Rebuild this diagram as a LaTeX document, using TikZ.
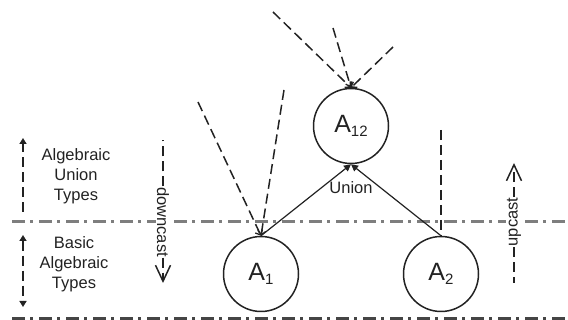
\documentclass[tikz,border=0pt]{standalone}
\usepackage{fontspec}
\setmainfont{Liberation Sans}
\usetikzlibrary{arrows.meta}

\definecolor{ink}{HTML}{222222}
\definecolor{rulegray}{HTML}{7E7E7E}
\definecolor{basegray}{HTML}{454545}

% type name with a lowered subscript
\newcommand{\typename}[2]{{\fontsize{25}{25}\selectfont #1\raisebox{-3.5pt}{\fontsize{15}{15}\selectfont #2}}}

\begin{document}
\begin{tikzpicture}[x=1pt,y=-1pt,
  every node/.style={text=ink},
  typecircle/.style={circle, draw=ink, line width=1.5pt, minimum size=75pt, inner sep=0pt},
  sidetext/.style={font=\fontsize{16.5}{20}\selectfont, align=center, inner sep=0pt},
  casttext/.style={font=\fontsize{16.5}{20}\selectfont, fill=white, inner sep=0.5pt},
  layerline/.style={draw=rulegray, line width=3pt, dash pattern=on 13pt off 5pt on 3pt off 6pt},
  baseline/.style={draw=basegray, line width=3pt, dash pattern=on 13pt off 5pt on 3pt off 6pt},
  dashln/.style={draw=ink, line width=1.5pt, dash pattern=on 10pt off 5pt},
  openhead/.style={-{Straight Barb[length=4pt,width=8pt,line width=1.3pt]}},
  casthead/.style={-{Straight Barb[length=16pt,width=15pt,line width=1.5pt]}},
  sidehead/.style={-{Triangle[length=6pt,width=7pt]}},
  unionarrow/.style={draw=ink, line width=1.2pt, -{Triangle[length=7pt,width=7pt]}}
]
\useasboundingbox (0,0) rectangle (568,320);

% layer separators
\draw[layerline] (12,222) -- (568,222);
\draw[baseline] (12,319) -- (568,319);

% type nodes
\node[typecircle] (A12) at (351,126) {\typename{A}{12}};
\node[typecircle] (A1) at (261,274) {\typename{A}{1}};
\node[typecircle] (A2) at (441,274) {\typename{A}{2}};

% union edges
\draw[unionarrow] (A1.north) -- (A12.south);
\draw[unionarrow] (A2.north) -- (A12.south);
\node[font=\fontsize{16.5}{20}\selectfont, anchor=base, inner sep=0pt] (unionlbl) at (351,194) {Union};

% incoming dashed references
\coordinate (t1) at (273,12);
\coordinate (t2) at (333,28);
\coordinate (t3) at (393,47);
\draw[dashln, openhead] (t1) -- (A12.north);
\draw[dashln, openhead] (t2) -- (A12.north);
\draw[dashln, openhead] (t3) -- (A12.north);

\coordinate (s1) at (198,102);
\coordinate (s2) at (284,90);
\draw[dashln, openhead] (s1) -- (A1.north);
\draw[dashln, openhead] (s2) -- (A1.north);

\coordinate (r1) at (441,130);
\draw[dashln] (r1) -- (A2.north);

% layer labels
\node[sidetext] (uniontypes) at (76,176) {Algebraic\\Union\\Types};
\node[sidetext] (basictypes) at (74,264) {Basic\\Algebraic\\Types};

\coordinate (ua) at (23,212);
\coordinate (ub) at (23,138);
\draw[dashln, sidehead] (ua) -- (ub);
\coordinate (ba) at (23,235);
\coordinate (bb) at (23,307);
\draw[dashln, {Triangle[length=6pt,width=7pt]}-{Triangle[length=6pt,width=7pt]}] (ba) -- (bb);

% cast directions
\node[casttext, rotate=-90] (down) at (163,222) {downcast};
\coordinate (dtop) at (163,140);
\coordinate (dtip) at (163,283);
\draw[dashln] (down.west) -- (dtop);
\draw[dashln, casthead] (down.east) -- (dtip);

\node[casttext, rotate=90] (up) at (514,222) {upcast};
\coordinate (ubot) at (514,283);
\coordinate (utip) at (514,163);
\draw[dashln] (up.west) -- (ubot);
\draw[dashln, casthead] (up.east) -- (utip);
\end{tikzpicture}
\end{document}
